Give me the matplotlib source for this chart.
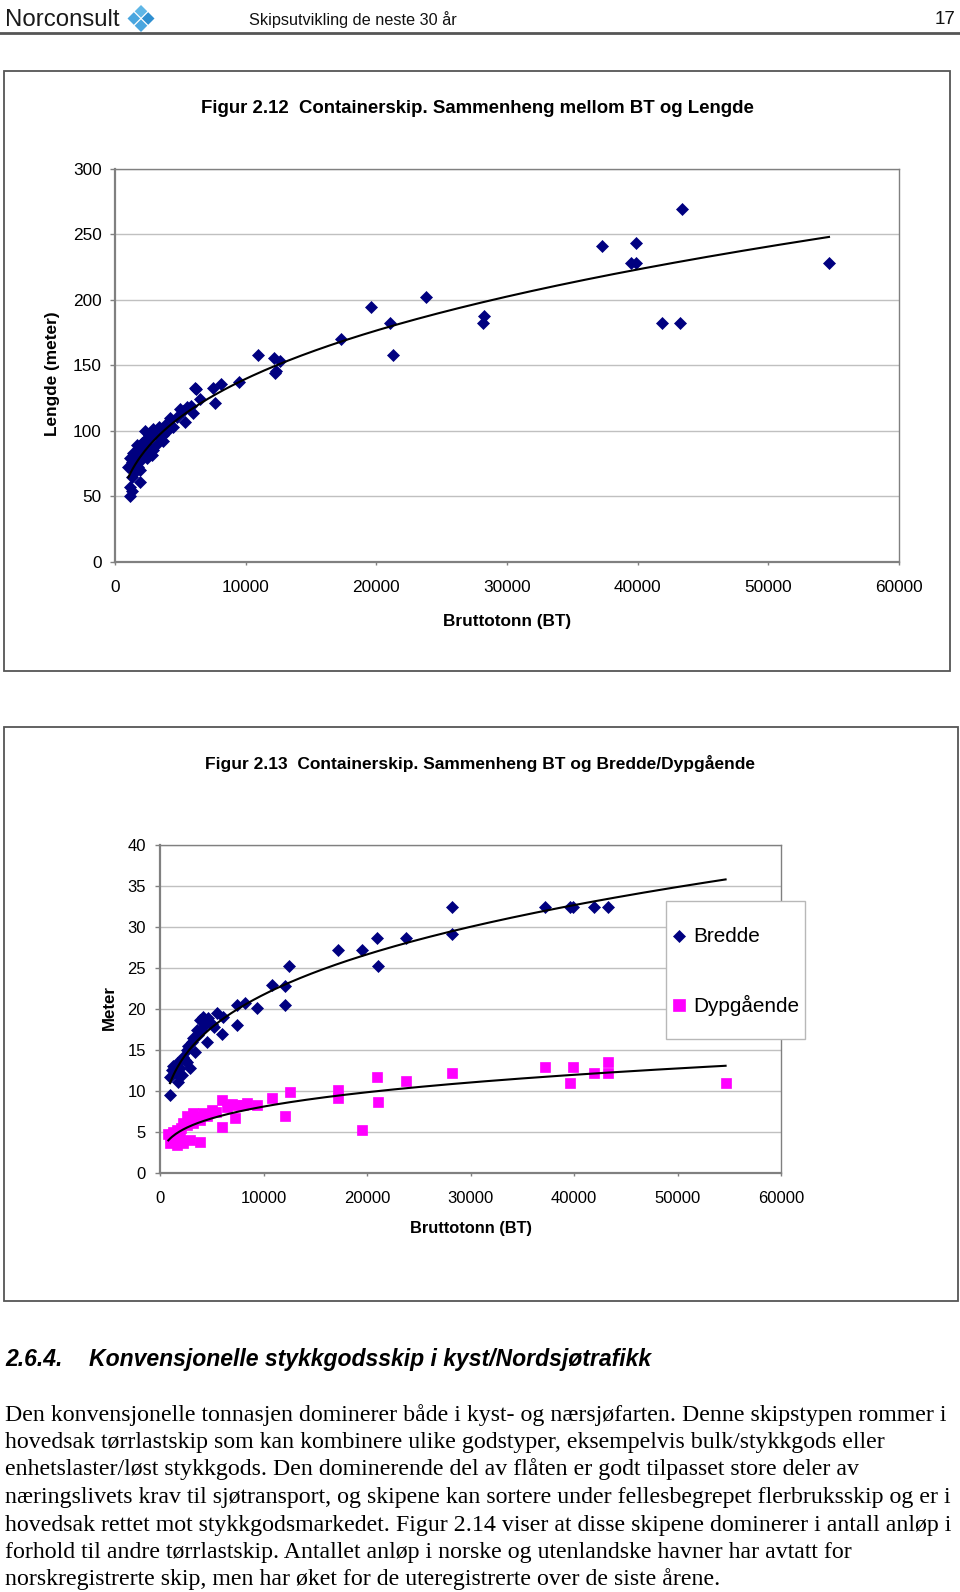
import numpy as np
import matplotlib
matplotlib.use("Agg")
import matplotlib.pyplot as plt
from matplotlib.patches import Rectangle, Polygon
from matplotlib.lines import Line2D
from matplotlib import font_manager

# ---------------- data ----------------
# Figure 2.12: BT vs Lengde
bt_len = [37245, 43370, 39872, 39465, 39872, 54643, 41887, 43264, 28265, 28138,
          23775, 21046, 19628, 21253, 17296, 10928, 12169, 12628, 12322, 12245,
          9490, 8112, 7525, 6199, 6505, 7653, 5484, 4974, 5995, 5357,
          4209, 4464, 3827, 2934, 2296, 3444, 2679, 3700, 2041, 1658,
          2934, 2168, 1403, 1148, 2423, 2806, 1020, 1786, 1531, 1913,
          1276, 1148, 1276, 1148, 1800, 2500, 1300, 2000, 1600, 3200,
          2600, 3000, 4000, 1900, 1500, 2200, 3400, 3700, 4719, 5200, 5800, 6122]
lengde = [241.2, 269.5, 243.8, 228.5, 228.5, 228.5, 182.2, 182.2, 187.8, 182.2,
          202.0, 182.2, 194.3, 157.9, 170.2, 157.9, 155.6, 153.2, 145.5, 144.5,
          137.6, 135.9, 132.6, 131.8, 124.2, 121.6, 118.6, 116.6, 113.5, 107.1,
          109.7, 103.3, 104.6, 101.3, 100.2, 95.7, 94.4, 92.0, 90.6, 89.3,
          85.5, 84.2, 83.0, 79.2, 79.2, 81.7, 72.8, 72.8, 68.9, 61.3,
          65.1, 57.5, 54.0, 50.4, 86.0, 88.0, 76.0, 78.0, 80.0, 90.0,
          97.0, 98.0, 100.0, 70.0, 74.0, 92.0, 103.0, 97.0, 110.9, 115.0, 119.0, 132.6]

# Figure 2.13: BT vs Bredde (the largest ship sits behind the legend)
bt_bredde = [28174, 28174, 37198, 39643, 39942, 41903, 43275, 23759, 21014, 21111,
             19546, 17188, 12483, 10790, 12077, 12077, 9340, 8213, 7407, 7407,
             5958, 5475, 4670, 3865, 4348, 3543, 4508, 3060, 3382, 2576,
             2415, 1611, 2899, 1127, 2093, 966, 1771, 966, 4000, 5000,
             3200, 2200, 1300, 2700, 3700, 4200, 5200, 6100, 1900, 1500, 2600, 54647]
bredde = [32.5, 29.2, 32.4, 32.5, 32.4, 32.5, 32.4, 28.6, 28.6, 25.2,
          27.2, 27.2, 25.2, 22.9, 22.8, 20.5, 20.1, 20.7, 20.5, 18.0,
          17.0, 19.5, 18.9, 18.7, 18.0, 17.4, 16.0, 16.0, 14.8, 15.0,
          13.8, 13.4, 12.8, 12.6, 12.0, 11.7, 11.1, 9.5, 17.5, 18.2,
          16.5, 14.2, 13.0, 15.5, 16.8, 19.0, 17.8, 19.0, 12.8, 12.2, 13.5, 32.3]

# Figure 2.13: BT vs Dypgående
bt_dyp = [54647, 43275, 43275, 41903, 39942, 39643, 37198, 28174, 23759, 21014,
          21111, 19546, 17188, 17188, 12560, 12077, 10790, 9340, 8373, 7407,
          7246, 5958, 5958, 4992, 4187, 3865, 3220, 2576, 2254, 3865,
          1611, 1127, 966, 1611, 2254, 2899, 805, 3220, 1300, 2000,
          2600, 4500, 5400, 6500, 1900, 3500, 7000, 8000]
dyp = [11.0, 13.5, 12.2, 12.2, 12.9, 11.0, 12.9, 12.2, 11.2, 11.7,
       8.6, 5.2, 10.1, 9.1, 9.9, 6.9, 9.1, 8.3, 8.5, 8.3,
       6.7, 8.9, 5.6, 7.7, 7.3, 6.5, 7.3, 6.9, 6.1, 3.8,
       5.2, 4.4, 3.6, 3.4, 3.6, 4.0, 4.8, 6.1, 5.0, 5.5,
       5.8, 7.0, 7.5, 8.0, 4.5, 6.8, 8.4, 8.3]

x_ticks = [0, 10000, 20000, 30000, 40000, 50000, 60000]
y_ticks1 = [0, 50, 100, 150, 200, 250, 300]
y_ticks2 = [0, 5, 10, 15, 20, 25, 30, 35, 40]

title1 = "Figur 2.12  Containerskip. Sammenheng mellom BT og Lengde"
title2 = "Figur 2.13  Containerskip. Sammenheng BT og Bredde/Dypgående"
xlabel = "Bruttotonn (BT)"
ylabel1 = "Lengde (meter)"
ylabel2 = "Meter"
legend_labels = ["Bredde", "Dypgående"]

header_left = "Norconsult"
header_mid = "Skipsutvikling de neste 30 år"
header_page = "17"
heading_num = "2.6.4."
heading_txt = "Konvensjonelle stykkgodsskip i kyst/Nordsjøtrafikk"
body_lines = [
    "Den konvensjonelle tonnasjen dominerer både i kyst- og nærsjøfarten. Denne skipstypen rommer i",
    "hovedsak tørrlastskip som kan kombinere ulike godstyper, eksempelvis bulk/stykkgods eller",
    "enhetslaster/løst stykkgods. Den dominerende del av flåten er godt tilpasset store deler av",
    "næringslivets krav til sjøtransport, og skipene kan sortere under fellesbegrepet flerbruksskip og er i",
    "hovedsak rettet mot stykkgodsmarkedet. Figur 2.14 viser at disse skipene dominerer i antall anløp i",
    "forhold til andre tørrlastskip. Antallet anløp i norske og utenlandske havner har avtatt for",
    "norskregistrerte skip, men har øket for de uteregistrerte over de siste årene.",
]

# ---------------- setup ----------------
plt.rcParams["font.family"] = ["Liberation Sans", "DejaVu Sans"]
W, H = 960, 1592
fig = plt.figure(figsize=(W / 100, H / 100), dpi=100)
fig.patch.set_facecolor("white")
renderer = fig.canvas.get_renderer()

_names = {f.name for f in font_manager.fontManager.ttflist}
NARROW = "Liberation Sans Narrow" if "Liberation Sans Narrow" in _names else "Liberation Sans"


def fx(x):
    return x / W


def fy(y):
    return 1 - y / H


def fit(t, width_px):
    bb = t.get_window_extent(renderer=renderer)
    t.set_fontsize(t.get_fontsize() * width_px / bb.width)
    return t.get_fontsize()


def power_fit(x, y):
    x = np.asarray(x, float)
    y = np.asarray(y, float)
    b, ln_a = np.polyfit(np.log(x), np.log(y), 1)
    xs = np.linspace(x.min(), x.max(), 300)
    return xs, np.exp(ln_a) * xs ** b


NAVY = "#000080"
MAGENTA = "#FF00FF"
GRID = "#c0c0c0"
SPINE = "#808080"

# ---------------- header ----------------
t = fig.text(fx(5), fy(20), header_left, fontsize=18, family=NARROW, color="#1a1a1a",
             ha="left", va="center")
fit(t, 115)
t = fig.text(fx(249), fy(20), header_mid, fontsize=12, family=NARROW, color="#111111",
             ha="left", va="center")
fs_h = fit(t, 208)
fig.text(fx(956), fy(20), header_page, fontsize=fs_h * 1.15, family=NARROW, color="#111111",
         ha="right", va="center")
fig.add_artist(Line2D([0, 1], [fy(32.5), fy(32.5)], transform=fig.transFigure,
                      color="#555555", lw=2))

# logo: four diamonds
cx, cy, off, hd = 141, 18.5, 7.2, 6.3
for (dx, dy), col in zip([(0, -1), (-1, 0), (1, 0), (0, 1)],
                         ["#5fb6e6", "#4aa6df", "#2f8fd0", "#4aa6df"]):
    px, py = cx + dx * off, cy + dy * off
    pts = [(fx(px), fy(py - hd)), (fx(px + hd), fy(py)), (fx(px), fy(py + hd)), (fx(px - hd), fy(py))]
    fig.add_artist(Polygon(pts, closed=True, transform=fig.transFigure, fc=col, ec="none"))

# ---------------- outer frames ----------------
for (x0, y0, x1, y1) in [(4, 71, 950, 671), (4, 727, 958, 1301)]:
    fig.add_artist(Rectangle((fx(x0), fy(y1)), (x1 - x0) / W, (y1 - y0) / H,
                             transform=fig.transFigure, fill=False, ec="#555555", lw=1.3))


def style_axes(ax, yticks, xpad, ypad, fs):
    ax.set_facecolor("white")
    for s in ax.spines.values():
        s.set_color(SPINE)
        s.set_linewidth(1.0)
    ax.spines["left"].set_linewidth(1.6)
    ax.spines["bottom"].set_linewidth(1.6)
    ax.set_xlim(0, 60000)
    ax.set_ylim(yticks[0], yticks[-1])
    ax.set_xticks(x_ticks)
    ax.set_xticklabels([str(v) for v in x_ticks])
    ax.set_yticks(yticks)
    ax.set_yticklabels([str(v) for v in yticks])
    ax.tick_params(axis="x", direction="out", length=2.5, width=1, color=SPINE,
                   labelsize=fs, pad=xpad)
    ax.tick_params(axis="y", direction="out", length=3.6, width=1, color=SPINE,
                   labelsize=fs, pad=ypad)
    ax.yaxis.grid(True, color=GRID, lw=1.0)
    ax.xaxis.grid(False)
    ax.set_axisbelow(True)


# ---------------- chart 1 ----------------
ax1 = fig.add_axes([fx(115), fy(562), 784 / W, 393 / H])
style_axes(ax1, y_ticks1, 10.6, 6.0, 12.4)
ax1.plot(bt_len, lengde, ls="none", marker="D", ms=5.8, mfc=NAVY, mec=NAVY, mew=0.5, zorder=3)
xs, ys = power_fit(bt_len, lengde)
ax1.plot(xs, ys, color="black", lw=1.5, zorder=4)

t = fig.text(fx(477), fy(108.5), title1, fontsize=12.5, fontweight="bold", ha="center", va="center")
fit(t, 556)
fig.text(fx(507), fy(622), xlabel, fontsize=12.4, fontweight="bold", ha="center", va="center")
fig.text(fx(53), fy(374), ylabel1, fontsize=12.4, fontweight="bold", rotation=90,
         ha="center", va="center")

# ---------------- chart 2 ----------------
ax2 = fig.add_axes([fx(160), fy(1173), 621 / W, 328 / H])
style_axes(ax2, y_ticks2, 10.6, 6.5, 12.0)
ax2.plot(bt_bredde, bredde, ls="none", marker="D", ms=6.0, mfc=NAVY, mec=NAVY, mew=0.5, zorder=3)
ax2.plot(bt_dyp, dyp, ls="none", marker="s", ms=7.8, mfc=MAGENTA, mec=MAGENTA, mew=0.5, zorder=3)
xs, ys = power_fit(bt_bredde, bredde)
ax2.plot(xs, ys, color="black", lw=1.5, zorder=4)
xs, ys = power_fit(bt_dyp, dyp)
ax2.plot(xs, ys, color="black", lw=1.5, zorder=4)

t = fig.text(fx(480), fy(764), title2, fontsize=12.5, fontweight="bold", ha="center", va="center")
fit(t, 552)
fig.text(fx(470.5), fy(1228), xlabel, fontsize=11.8, fontweight="bold", ha="center", va="center")
fig.text(fx(109), fy(1008), ylabel2, fontsize=12.2, fontweight="bold", rotation=90,
         ha="center", va="center")

# legend (drawn in figure space, on top of the plot)
fig.add_artist(Rectangle((fx(666), fy(1039)), (805 - 666) / W, (1039 - 901) / H,
                         transform=fig.transFigure, fc="white", ec="#b8b8b8", lw=1.0, zorder=5))
fig.add_artist(Line2D([fx(679)], [fy(936)], transform=fig.transFigure, ls="none", marker="D",
                      ms=6.2, mfc=NAVY, mec=NAVY, mew=0.5, zorder=6))
fig.add_artist(Line2D([fx(679)], [fy(1005)], transform=fig.transFigure, ls="none", marker="s",
                      ms=8.0, mfc=MAGENTA, mec=MAGENTA, mew=0.5, zorder=6))
t = fig.text(fx(693), fy(936), legend_labels[0], fontsize=15, ha="left", va="center", zorder=6)
fs_leg = fit(t, 67)
fig.text(fx(693), fy(1005), legend_labels[1], fontsize=fs_leg, ha="left", va="center", zorder=6)

# ---------------- text section ----------------
th = fig.text(fx(89), fy(1366), heading_txt, fontsize=15, fontweight="bold", style="italic",
              ha="left", va="baseline")
fs_head = fit(th, 564)
fig.text(fx(5), fy(1366), heading_num, fontsize=fs_head, fontweight="bold", style="italic",
         ha="left", va="baseline")

tb = fig.text(fx(5), fy(1420), body_lines[3], fontsize=16, family="Liberation Serif",
              ha="left", va="baseline")
fs_body = fit(tb, 946)
tb.remove()
for i, line in enumerate(body_lines):
    fig.text(fx(5), fy(1420.5 + i * 27.5), line, fontsize=fs_body, family="Liberation Serif",
             ha="left", va="baseline", color="black")

fig.savefig("out.png", dpi=100, facecolor="white")
